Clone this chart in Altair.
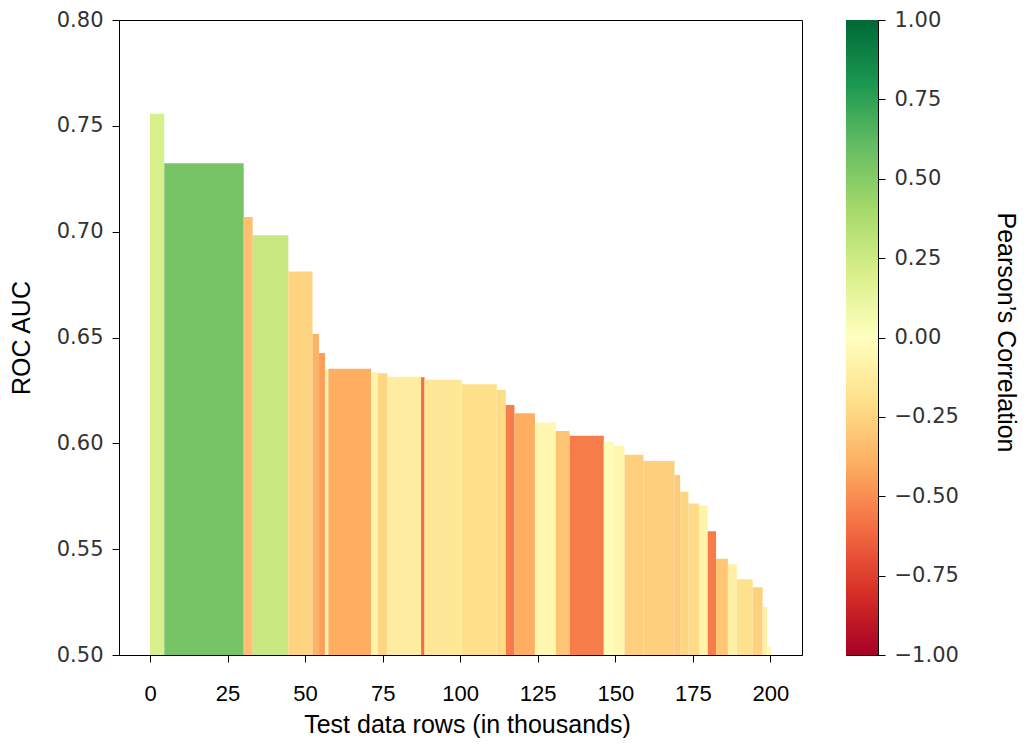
import altair as alt
import pandas as pd

# Bars: start / end of each test-data block (thousands of rows), ROC AUC, Pearson correlation
x_start = [0.0, 4.6, 30.2, 33.1, 44.6, 52.4, 54.5, 56.4, 57.5, 71.3, 73.4, 76.5,
           87.4, 88.5, 100.5, 111.8, 114.7, 117.5, 124.1, 130.8, 135.3, 146.3,
           149.5, 153.0, 159.1, 169.1, 170.9, 173.6, 177.1, 179.8, 182.5, 186.3,
           189.2, 194.3, 197.5, 199.0]
x_end = [4.6, 30.2, 33.1, 44.6, 52.4, 54.5, 56.4, 57.5, 71.3, 73.4, 76.5, 87.4,
         88.5, 100.5, 111.8, 114.7, 117.5, 124.1, 130.8, 135.3, 146.3, 149.5,
         153.0, 159.1, 169.1, 170.9, 173.6, 177.1, 179.8, 182.5, 186.3, 189.2,
         194.3, 197.5, 199.0, 200.2]
roc_auc = [0.7557, 0.7323, 0.7069, 0.6983, 0.6812, 0.6517, 0.6427, 0.6352,
           0.6352, 0.6336, 0.6331, 0.6315, 0.6312, 0.6300, 0.6279, 0.6252,
           0.6181, 0.6142, 0.6099, 0.6058, 0.6036, 0.6008, 0.5989, 0.5946,
           0.5916, 0.5850, 0.5771, 0.5716, 0.5705, 0.5585, 0.5455, 0.5429,
           0.5358, 0.5320, 0.5227, 0.5038]
pearson = [0.20, 0.55, -0.33, 0.27, -0.25, -0.38, -0.45, -0.08, -0.40, -0.08,
           -0.24, -0.12, -0.60, -0.15, -0.20, -0.22, -0.55, -0.40, -0.06, -0.31,
           -0.55, -0.02, -0.06, -0.27, -0.27, -0.29, -0.24, -0.22, -0.08, -0.55,
           -0.31, -0.10, -0.19, -0.26, -0.10, -0.05]

x_ticks = [0, 25, 50, 75, 100, 125, 150, 175, 200]
y_ticks = [0.50, 0.55, 0.60, 0.65, 0.70, 0.75, 0.80]
cbar_ticks = [-1.0, -0.75, -0.5, -0.25, 0.0, 0.25, 0.5, 0.75, 1.0]

# RdYlGn colormap anchors
rdylgn = ["#a50026", "#d73027", "#f46d43", "#fdae61", "#fee08b", "#ffffbf",
          "#d9ef8b", "#a6d96a", "#66bd63", "#1a9850", "#006837"]
rdylgn_domain = [-1.0, -0.8, -0.6, -0.4, -0.2, 0.0, 0.2, 0.4, 0.6, 0.8, 1.0]

df = pd.DataFrame({"x0": x_start, "x1": x_end, "auc": roc_auc, "r": pearson})

bars = alt.Chart(df).mark_rect(clip=True).encode(
    x=alt.X("x0:Q",
            scale=alt.Scale(domain=[-10.0, 210.2], nice=False, zero=False),
            axis=alt.Axis(values=x_ticks, format="d", title="Test data rows (in thousands)",
                          labelFont="Liberation Sans", labelFontSize=22, labelColor="black",
                          labelPadding=21, titlePadding=8, titleX=348)),
    x2="x1:Q",
    y=alt.Y("auc:Q",
            scale=alt.Scale(domain=[0.5, 0.8], nice=False, zero=False),
            axis=alt.Axis(values=y_ticks, format=".2f", title="ROC AUC",
                          labelFont="DejaVu Sans", labelFontSize=21, labelColor="#333333",
                          labelPadding=9, titlePadding=22)),
    y2=alt.datum(0.5),
    color=alt.Color("r:Q",
                    scale=alt.Scale(domain=rdylgn_domain, range=rdylgn, interpolate="rgb"),
                    legend=None),
).properties(width=683, height=635)

cb_df = pd.DataFrame({"lo": [cbar_ticks[0]], "hi": [cbar_ticks[-1]]})
grad = alt.Gradient(
    gradient="linear",
    stops=[alt.GradientStop(color=c, offset=(v + 1) / 2) for c, v in zip(rdylgn, rdylgn_domain)],
    x1=0, x2=0, y1=1, y2=0,
)
cbar = alt.Chart(cb_df).mark_rect(color=grad).encode(
    x=alt.value(0),
    x2=alt.value(32),
    y=alt.Y("lo:Q",
            scale=alt.Scale(domain=[-1, 1], nice=False, zero=False),
            axis=alt.Axis(orient="right", values=cbar_ticks, format=".2f",
                          title="Pearson’s Correlation",
                          labelFont="DejaVu Sans", labelFontSize=21, labelColor="#333333",
                          labelPadding=9, titlePadding=34, titleY=312)),
    y2="hi:Q",
).properties(width=32, height=635)

chart = alt.hconcat(bars, cbar, spacing=42).properties(
    padding={"left": 0, "top": 0, "right": 10, "bottom": 0}, background="white"
).configure_view(
    stroke="black", strokeWidth=1
).configure_axis(
    grid=False, domainColor="black", domainWidth=1, tickColor="black", tickSize=7,
    tickWidth=1, titleFont="Liberation Sans", titleFontSize=25, titleFontWeight="normal",
    titleColor="black",
)

chart.save("out.html", embed_options={"renderer": "svg", "actions": False})
